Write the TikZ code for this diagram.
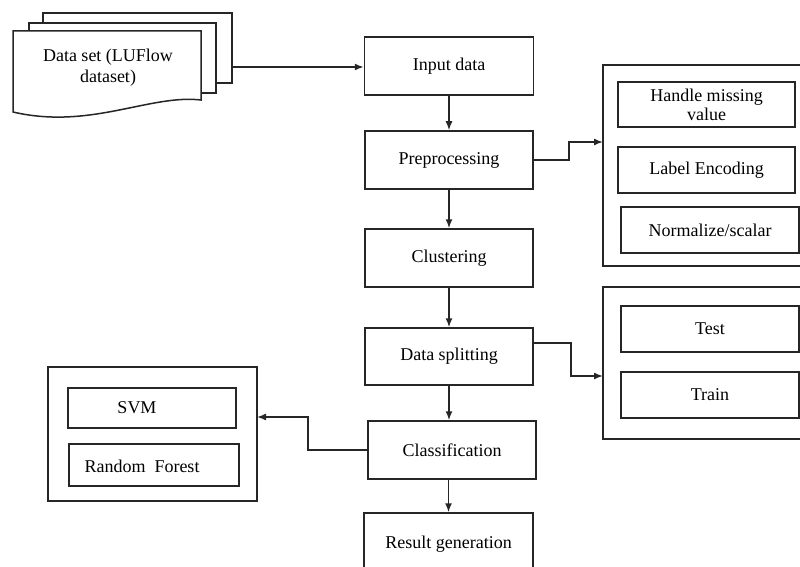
\documentclass[tikz,border=0pt]{standalone}
\usepackage{fontspec}
\setmainfont{Liberation Serif}
\usetikzlibrary{arrows.meta}
\begin{document}
\begin{tikzpicture}[x=1pt,y=-1pt,
 box/.style={draw=black!85,line width=1.5pt,fill=white,inner sep=0pt,align=center,font=\fontsize{18}{19}\selectfont},
 txt/.style={inner sep=0pt,align=center,font=\fontsize{18}{21}\selectfont},
 pagestyle/.style={draw=black!85,line width=1.5pt,fill=white},
 arr/.style={draw=black!85,line width=1.5pt,-{Latex[length=9pt,width=7pt]}}]
\useasboundingbox (0,0) rectangle (800,567);
\clip (0,0) rectangle (800,567);
\fill[white] (0,0) rectangle (800,567);
% document stack
\draw[pagestyle] (43,13) rectangle (232,83);
\draw[pagestyle] (29,23) rectangle (216,93);
\draw[pagestyle] (13,31) -- (201,31) -- (201,100) .. controls (150,94) and (90,130) .. (13,112) -- cycle;
\node[txt] (dset) at (108,68) {Data set (LUFlow\\dataset)};
\coordinate (dsr) at (232,67);
% main column
\node[box,minimum width=169pt,minimum height=58pt] (in) at (449,66) {Input data};
\node[box,minimum width=168pt,minimum height=58pt] (pre) at (449,160) {Preprocessing};
\node[box,minimum width=168pt,minimum height=58pt] (clu) at (449,258) {Clustering};
\node[box,minimum width=168pt,minimum height=57pt] (dsp) at (449,356.5) {Data splitting};
\node[box,minimum width=168pt,minimum height=58pt] (cls) at (452,450) {Classification};
\node[box,minimum width=169pt,minimum height=62pt] (res) at (448.5,544) {Result generation};
% preprocessing group
\node[box,minimum width=207pt,minimum height=201pt] (g1) at (706.5,165.5) {};
\node[box,minimum width=177pt,minimum height=45pt] (hm) at (706.5,104.5) {Handle missing\\value};
\node[box,minimum width=177pt,minimum height=46pt] (le) at (706.5,170) {Label Encoding};
\node[box,minimum width=178pt,minimum height=46pt] (nz) at (710,230) {Normalize/scalar};
% splitting group
\node[box,minimum width=207pt,minimum height=152pt] (g2) at (706.5,363) {};
\node[box,minimum width=178pt,minimum height=46pt] (test) at (710,329) {Test};
\node[box,minimum width=178pt,minimum height=46pt] (train) at (710,395) {Train};
% classifier group
\node[box,minimum width=209pt,minimum height=134pt] (lg) at (152.5,434) {};
\node[box,minimum width=168pt,minimum height=40pt] (svm) at (152,408) {};
\node[txt] (svmt) at (137,408) {SVM};
\node[box,minimum width=170pt,minimum height=42pt] (rf) at (154,465) {};
\node[txt] (rft) at (142,466) {Random\ \ Forest};
% connectors
\draw[arr] (dsr) -- (dsr -| in.west);
\draw[arr] (in.south) -- (pre.north);
\draw[arr] (pre.south) -- (clu.north);
\draw[arr] (clu.south) -- (dsp.north);
\draw[arr] (dsp.south) -- (dsp.south |- cls.north);
\draw[arr] (cls.south -| res.north) -- (res.north);
\coordinate (g1in) at (603,142);
\draw[arr] (pre.east) -- (569,160) |- (g1in);
\coordinate (dspout) at (533,343);
\coordinate (g2in) at (603,376);
\draw[arr] (dspout) -- (571,343) |- (g2in);
\coordinate (lgin) at (257,417);
\draw[arr] (cls.west) -- (308,450) |- (lgin);
\end{tikzpicture}
\end{document}
